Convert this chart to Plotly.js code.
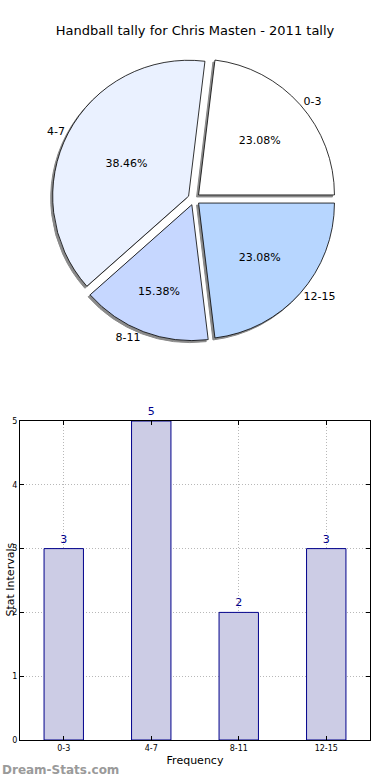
<!DOCTYPE html>
<html>
<head>
<meta charset="utf-8">
<script src="https://cdn.plot.ly/plotly-3.0.1.min.js"></script>
<style>html,body{margin:0;padding:0;background:#fff;}#chart{width:390px;height:780px;}</style>
</head>
<body>
<div id="chart"></div>
<script>
const categories = ["0-3", "4-7", "8-11", "12-15"];
const counts = [3, 5, 2, 3];
const sliceColors = ["#FFFFFF", "#EAF1FF", "#C6D7FF", "#B7D6FF"];
const titleText = "Handball tally for Chris Masten - 2011 tally";
const yTicks = [0, 1, 2, 3, 4, 5];

const W = 390, H = 780;
function px(x){ return x / W; }
function py(y){ return (H - y) / H; }

const total = counts.reduce((a, b) => a + b, 0);
// first slice begins at 3 o'clock and runs counterclockwise (Plotly places the first slice clockwise of 'rotation')
const startRotation = 90 - 360 * counts[0] / total;

const pull = 0.045;
const cx = 194, cy = 199, half = 142;
const pieDomain = {x: [px(cx - half), px(cx + half)], y: [py(cy + half), py(cy - half)]};
const shadowDomain = {x: [px(cx - half - 2), px(cx + half - 2)], y: [py(cy + half + 2), py(cy - half + 2)]};

const common = {
  type: "pie", labels: categories, values: counts, sort: false,
  direction: "counterclockwise", rotation: startRotation, pull: pull,
  hoverinfo: "none", showlegend: false
};

const shadow = Object.assign({}, common, {
  domain: shadowDomain,
  marker: {colors: categories.map(() => "#8a8a8a"), line: {color: "#8a8a8a", width: 1}},
  textinfo: "none"
});
const pie = Object.assign({}, common, {
  domain: pieDomain,
  marker: {colors: sliceColors, line: {color: "#000000", width: 0.8}},
  texttemplate: "%{percent:.2%}",
  textposition: "inside",
  insidetextorientation: "horizontal",
  textfont: {family: "DejaVu Sans", size: 11, color: "#000"}
});
const labelsPie = Object.assign({}, common, {
  domain: pieDomain,
  marker: {colors: categories.map(() => "rgba(0,0,0,0)"), line: {width: 0}},
  texttemplate: "%{label}",
  textposition: "outside",
  textfont: {family: "DejaVu Sans", size: 11, color: "#000"}
});

const bars = {
  type: "bar", x: categories, y: counts, width: 0.45,
  xaxis: "x", yaxis: "y",
  marker: {color: "#CCCCE5", line: {color: "#00008B", width: 1}},
  text: counts.map(String), textposition: "outside", cliponaxis: false,
  textfont: {family: "DejaVu Sans", size: 11, color: "#00008B"},
  hoverinfo: "none", showlegend: false
};

const layout = {
  width: W, height: H,
  margin: {l: 0, r: 0, t: 0, b: 0},
  paper_bgcolor: "#fff", plot_bgcolor: "#fff",
  font: {family: "DejaVu Sans", color: "#000"},
  title: {text: titleText, x: 0.5, xanchor: "center", y: 1 - 30/H, yanchor: "middle",
          font: {family: "DejaVu Sans", size: 13, color: "#000"}},
  xaxis: {
    domain: [px(20), px(370)], anchor: "y", type: "category",
    range: [-0.5, 3.5],
    showgrid: true, gridcolor: "#b8b8b8", griddash: "1px,2px", gridwidth: 1,
    showline: true, linecolor: "#000", linewidth: 1, mirror: "ticks",
    ticks: "inside", ticklen: 4, tickcolor: "#000",
    tickfont: {family: "DejaVu Sans", size: 8, color: "#000"},
    title: {text: "Frequency", font: {family: "DejaVu Sans", size: 11, color: "#000"}, standoff: 4},
    zeroline: false, fixedrange: true
  },
  yaxis: {
    domain: [py(740), py(421)], anchor: "x",
    range: [0, 5], tickvals: yTicks, ticktext: yTicks.map(String),
    showgrid: true, gridcolor: "#b8b8b8", griddash: "1px,2px", gridwidth: 1,
    showline: true, linecolor: "#000", linewidth: 1, mirror: "ticks",
    ticks: "inside", ticklen: 4, tickcolor: "#000",
    tickfont: {family: "DejaVu Sans", size: 8, color: "#000"},
    zeroline: false, fixedrange: true
  },
  annotations: [
    {text: "Stat Intervals", textangle: -90, xref: "paper", yref: "paper",
     x: px(1), y: py(580), xanchor: "left", yanchor: "middle", showarrow: false,
     font: {family: "DejaVu Sans", size: 11, color: "#000"}},
    {text: "<b>Dream-Stats.com</b>", xref: "paper", yref: "paper",
     x: 0, y: py(770), xanchor: "left", yanchor: "middle", showarrow: false,
     font: {family: "DejaVu Sans", size: 12, color: "#9a9a9a"}}
  ]
};

Plotly.newPlot("chart", [shadow, pie, labelsPie, bars], layout, {displayModeBar: false, staticPlot: true});
</script>
</body>
</html>
